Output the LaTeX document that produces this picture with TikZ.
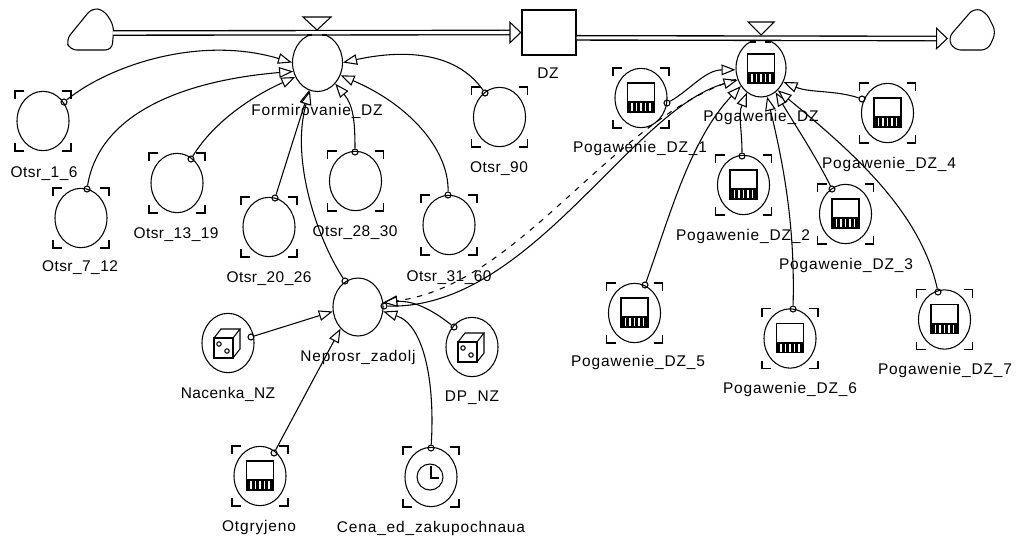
\documentclass[tikz,border=0pt]{standalone}
\usepackage{fontspec}
\setmainfont{Liberation Sans}
\newfontfamily\lblnarrow[LetterSpace=3]{Liberation Sans}
\newfontfamily\lblwide[LetterSpace=5.5]{Liberation Sans}
\usetikzlibrary{arrows.meta,shapes.geometric}
\tikzset{
  lw/.style={line width=.8pt},
  rate/.style={ellipse,draw,lw,minimum width=37.5pt,minimum height=43.5pt,inner sep=0pt},
  auxv/.style={ellipse,draw,lw,minimum width=39pt,minimum height=44.5pt,inner sep=0pt},
  stockbox/.style={rectangle,draw,lw,minimum width=40.5pt,minimum height=33.75pt,inner sep=0pt},
  srcdot/.style={circle,draw,lw,minimum size=4.5pt,inner sep=0pt},
  lblN/.style={anchor=base,inner sep=0pt,font=\fontsize{11.6pt}{13pt}\lblnarrow},
  lblW/.style={anchor=base,inner sep=0pt,font=\fontsize{11.6pt}{13pt}\lblwide},
  conn/.style={lw,-{Triangle[open,fill=white,length=10.5pt,width=8pt,line width=.8pt]}},
  dashconn/.style={conn,dashed,dash pattern=on 4pt off 5pt},
  pipe/.style={line width=1pt,double,double distance=2.3pt,shorten >=7pt},
  pipehead/.style={white,line width=.1pt,-{Triangle[length=9pt,width=17pt,fill=white,color=black,line width=.8pt]}},
  valve/.style={draw,lw,fill=white},
  cloudshape/.style={draw,lw,rounded corners=5pt},
  pics/brackets/.style={code={
    \draw[lw] (-28,-22) -- (-28,-30) -- (-19,-30);
    \draw[lw] (19,-30) -- (28,-30) -- (28,-22);
    \draw[lw] (-28,22) -- (-28,30) -- (-19,30);
    \draw[lw] (19,30) -- (28,30) -- (28,22);
  }},
  pics/tablepic/.style={code={
    \draw[lw] (-13.5,-15) rectangle (13.5,14);
    \fill (-13.5,3) rectangle (13.5,14);
    \foreach \i in {-9,-4.5,0,4.5,9} \draw[white,line width=.9pt] (\i,5) -- (\i,13);
  }},
  pics/dicepic/.style={code={
    \draw[lw] (-14,-5) rectangle (5,15);
    \draw[lw] (-14,-5) -- (-7,-14) -- (12,-14) -- (5,-5);
    \draw[lw] (12,-14) -- (12,6) -- (5,15);
    \draw[lw] (-9,1) circle (2.2);
    \draw[lw] (-1,8) circle (2.2);
  }},
  pics/clockpic/.style={code={
    \draw[lw] (0,0) circle (13);
    \draw[lw] (1,-11) -- (1,1) -- (9,1);
  }},
}
\begin{document}
\begin{tikzpicture}[x=.75pt,y=-.75pt]
\useasboundingbox (0,0) rectangle (1016,537);
% clouds
\draw[cloudshape] (66,40) -- (92,8) -- (104,10) -- (114,26) -- (112,50) -- (70,50) -- cycle;
\draw[cloudshape] (948,38) -- (974,8) -- (986,12) -- (996,32) -- (988,50) -- (954,50) -- cycle;
\coordinate (cloudL) at (113,33);
\coordinate (cloudR) at (948,38.5);
% stock and rates
\node[stockbox] (stock) at (549,32.5) {};
\node[rate] (form) at (317.5,62.5) {};
\node[rate] (pog) at (761,68) {};
\node[rate] (nep) at (358,307) {};
\pic at (761,69) {tablepic};
% pipes
\draw[pipe] (cloudL) -- (stock.west);
\draw[pipehead] (cloudL) -- (stock.west);
\draw[pipe] (stock.-11.5) -- (cloudR);
\draw[pipehead] (stock.-11.5) -- (cloudR);
% valves
\draw[valve] (303,17) -- (331,17) -- (317,30) -- cycle;
\draw[valve] (748,22) -- (774,22) -- (761,35) -- cycle;
\fill (307,34) rectangle (312,36);
\fill (322,34) rectangle (327,36);
\fill (750,40.5) rectangle (756,42.5);
\fill (765,40.5) rectangle (771,42.5);
% auxiliaries
\foreach \n/\x/\y in {o1/43/121,o7/81/218,o13/177/183,o20/269/227,o28/355.5/181,o31/449/225,o90/499.5/117,
  p1/641/98,p2/743.5/185,p3/845.5/214,p4/887.5/113,p5/634.5/313,p6/790/338.5,p7/944.5/319.5,
  otg/260/476,cena/431/477} {
  \node[auxv] (\n) at (\x,\y) {};
  \pic at (\x,\y) {brackets};
}
\node[auxv] (nac) at (228,343) {};
\node[auxv] (dp) at (472,347) {};
\foreach \x/\y in {641/98,743.5/185,845.5/214,887.5/113,634.5/313,790/338.5,944.5/319.5,260/476} \pic at (\x,\y) {tablepic};
\pic at (228,343) {dicepic};
\pic at (472,347) {dicepic};
\pic at (430,477) {clockpic};
% source markers
\node[srcdot] (so1) at (64,102) {};
\node[srcdot] (so7) at (87,189) {};
\node[srcdot] (so13) at (191,159) {};
\node[srcdot] (so20) at (275,198) {};
\node[srcdot] (so28) at (355,152) {};
\node[srcdot] (so31) at (448,195) {};
\node[srcdot] (so90) at (485,93) {};
\node[srcdot] (snf) at (345,281) {};
\node[srcdot] (snp) at (384,306) {};
\node[srcdot] (sp1) at (667,103) {};
\node[srcdot] (sp2) at (742,156) {};
\node[srcdot] (sp3) at (832,189) {};
\node[srcdot] (sp4) at (862,99) {};
\node[srcdot] (sp5) at (645,285) {};
\node[srcdot] (sp6) at (793,309) {};
\node[srcdot] (sp7) at (938,292) {};
\node[srcdot] (snac) at (251,337) {};
\node[srcdot] (sdp) at (454,327) {};
\node[srcdot] (sotg) at (274,453) {};
\node[srcdot] (scena) at (431,448) {};
\node[srcdot,minimum size=1pt,draw=none] (spd) at (737,79) {};
% connectors to Formirovanie_DZ
\draw[conn] (so1) .. controls (110,65) and (200,35) .. (form.180);
\draw[conn] (so7) .. controls (100,110) and (190,80) .. (form.200);
\draw[conn] (so13) .. controls (215,120) and (255,95) .. (form.213);
\draw[conn] (so20) -- (form.253);
\draw[conn] (snf) .. controls (318,240) and (290,160) .. (form.255);
\draw[conn] (so28) .. controls (355,120) and (353,105) .. (form.310);
\draw[conn] (so31) .. controls (449,150) and (410,105) .. (form.331);
\draw[conn] (so90) .. controls (455,50) and (400,50) .. (form.0);
% connectors to Pogawenie_DZ
\draw[conn] (sp1) .. controls (690,90) and (705,70) .. (pog.184);
\draw[conn] (snp) .. controls (530,310) and (630,110) .. (pog.207);
\draw[dashconn] (spd) .. controls (610,120) and (520,285) .. (nep.10);
\draw[conn] (sp5) .. controls (670,215) and (690,140) .. (pog.222);
\draw[conn] (sp2) .. controls (742,130) and (738,115) .. (pog.240);
\draw[conn] (sp6) .. controls (795,230) and (785,170) .. (pog.282);
\draw[conn] (sp3) .. controls (815,155) and (795,125) .. (pog.301);
\draw[conn] (sp7) .. controls (920,210) and (850,150) .. (pog.307);
\draw[conn] (sp4) .. controls (835,90) and (810,93) .. (pog.328);
% connectors to Neprosr_zadolj
\draw[conn] (snac) -- (nep.190);
\draw[conn] (sotg) -- (nep.231);
\draw[conn] (sdp) .. controls (435,312) and (415,300) .. (nep.10);
\draw[conn] (scena) .. controls (435,385) and (425,325) .. (nep.350);
% labels
\node[lblN] (lo1) at (44,177) {Otsr\_1\_6};
\node[lblN] (lo7) at (80,271) {Otsr\_7\_12};
\node[lblN] (lo13) at (176,238) {Otsr\_13\_19};
\node[lblN] (lo20) at (269,282) {Otsr\_20\_26};
\node[lblN] (lo28) at (355,236) {Otsr\_28\_30};
\node[lblN] (lo31) at (449,281) {Otsr\_31\_60};
\node[lblN] (lo90) at (499,172) {Otsr\_90};
\node[lblW] (lform) at (317,115) {Formirovanie\_DZ};
\node[lblN] (lstock) at (548,78) {DZ};
\node[lblW] (lpog) at (761,121) {Pogawenie\_DZ};
\node[lblW] (lp1) at (640,152) {Pogawenie\_DZ\_1};
\node[lblW] (lp2) at (743,240) {Pogawenie\_DZ\_2};
\node[lblW] (lp3) at (846,269) {Pogawenie\_DZ\_3};
\node[lblW] (lp4) at (889,168) {Pogawenie\_DZ\_4};
\node[lblW] (lp5) at (638,366) {Pogawenie\_DZ\_5};
\node[lblW] (lp6) at (790,393) {Pogawenie\_DZ\_6};
\node[lblW] (lp7) at (945,374) {Pogawenie\_DZ\_7};
\node[lblW] (lnep) at (358,361) {Neprosr\_zadolj};
\node[lblN] (lnac) at (228,398) {Nacenka\_NZ};
\node[lblW] (ldp) at (472,401) {DP\_NZ};
\node[lblW] (lotg) at (259,531) {Otgryjeno};
\node[lblW] (lcena) at (431,532) {Cena\_ed\_zakupochnaua};
\end{tikzpicture}
\end{document}
